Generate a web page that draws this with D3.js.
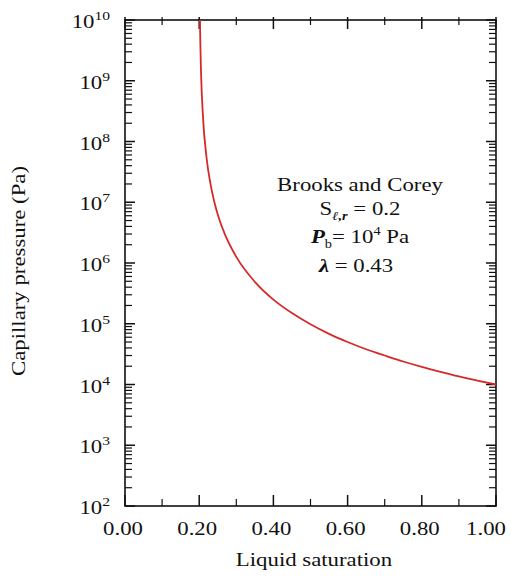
<!DOCTYPE html>
<html><head><meta charset="utf-8">
<script src="https://cdn.jsdelivr.net/npm/d3@7"></script>
<style>body{margin:0;background:#fff}svg text{font-family:"Liberation Serif","Times New Roman",serif;fill:#111}</style>
</head><body>
<svg id="c" width="511" height="579"></svg>
<script>
const saturation = [0.2021,0.203,0.205,0.21,0.22,0.23,0.24,0.25,0.27,0.30,0.35,0.40,0.45,0.50,0.55,0.60,0.65,0.70,0.75,0.80,0.85,0.90,0.95,1.00];
const pressure   = [1e10,4.4e9,1.34e9,2.67e8,5.3e7,2.07e7,1.06e7,6.3e6,2.9e6,1.26e6,4.9e5,2.5e5,1.5e5,9.8e4,6.8e4,5.0e4,3.8e4,3.0e4,2.39e4,1.95e4,1.62e4,1.36e4,1.16e4,1.0e4];
const xTicks = [0,0.2,0.4,0.6,0.8,1.0];
const xMinor = [0.1,0.3,0.5,0.7,0.9];
const yExps = [2,3,4,5,6,7,8,9,10];

const svg = d3.select("#c");
const L=125,R=496,T=20,B=506;
const x = d3.scaleLinear().domain([0,1]).range([L,R]);
const y = d3.scaleLog().domain([1e2,1e10]).range([B,T]);
const SX=1.2;
function txt(px,py,anchor,size,extra){
  const gg=svg.append("g").attr("transform",`translate(${px},${py})${extra||""} scale(${SX},1)`);
  return gg.append("text").attr("x",0).attr("y",0).attr("text-anchor",anchor).attr("font-size",size);
}

const g = svg.append("g");
const yMinorVals=[];
for(let e=2;e<10;e++) for(let m=2;m<=9;m++) yMinorVals.push(m*Math.pow(10,e));
yMinorVals.forEach(v=>{
  g.append("line").attr("x1",L).attr("x2",L+7).attr("y1",y(v)).attr("y2",y(v)).attr("stroke","#111").attr("stroke-width",1.2);
  g.append("line").attr("x1",R).attr("x2",R-7).attr("y1",y(v)).attr("y2",y(v)).attr("stroke","#111").attr("stroke-width",1.2);
});
yExps.forEach(e=>{
  const v=Math.pow(10,e);
  g.append("line").attr("x1",L).attr("x2",L+10).attr("y1",y(v)).attr("y2",y(v)).attr("stroke","#111").attr("stroke-width",1.5);
  g.append("line").attr("x1",R).attr("x2",R-10).attr("y1",y(v)).attr("y2",y(v)).attr("stroke","#111").attr("stroke-width",1.5);
  const t=txt(110,y(v)+8,"end",19);
  t.append("tspan").text("10");
  t.append("tspan").attr("dy",-8).attr("font-size",13).text(e);
});
xTicks.forEach(v=>{
  g.append("line").attr("x1",x(v)).attr("x2",x(v)).attr("y1",B).attr("y2",B-11).attr("stroke","#111").attr("stroke-width",1.5);
  g.append("line").attr("x1",x(v)).attr("x2",x(v)).attr("y1",T-3).attr("y2",T+9).attr("stroke","#111").attr("stroke-width",1.5);
  const lx = v===1 ? Math.min(x(v)-2, 486) : x(v)-2;
  txt(lx,535,"middle",19).text(d3.format(".2f")(v));
});
xMinor.forEach(v=>{
  g.append("line").attr("x1",x(v)).attr("x2",x(v)).attr("y1",B).attr("y2",B-7).attr("stroke","#111").attr("stroke-width",1.2);
  g.append("line").attr("x1",x(v)).attr("x2",x(v)).attr("y1",T-3).attr("y2",T+5).attr("stroke","#111").attr("stroke-width",1.2);
});
g.append("rect").attr("x",L).attr("y",T).attr("width",R-L).attr("height",B-T).attr("fill","none").attr("stroke","#111").attr("stroke-width",1.6);

const data = saturation.map((s,i)=>[s,pressure[i]]);
svg.append("path").datum(data).attr("fill","none").attr("stroke","#d42a2a").attr("stroke-width",1.8)
  .attr("d",d3.line().x(d=>x(d[0])).y(d=>y(d[1])).curve(d3.curveMonotoneX));

txt(314,566,"middle",19).text("Liquid saturation");
txt(25,271,"middle",19," rotate(-90)").text("Capillary pressure (Pa)");

const ax=360;
txt(ax,191,"middle",19).text("Brooks and Corey");
const s=txt(ax,215,"middle",19);
s.append("tspan").text("S");
s.append("tspan").attr("dy",5).attr("font-size",12).attr("font-style","italic").attr("font-weight","bold").text("ℓ,r");
s.append("tspan").attr("dy",-5).text(" = 0.2");
const p=txt(ax,243,"middle",19);
p.append("tspan").attr("font-style","italic").attr("font-weight","bold").text("P");
p.append("tspan").attr("dy",5).attr("font-size",12).text("b");
p.append("tspan").attr("dy",-5).text("= 10");
p.append("tspan").attr("dy",-8).attr("font-size",12).text("4");
p.append("tspan").attr("dy",8).text(" Pa");
const l=txt(ax-4,272,"middle",19);
l.append("tspan").attr("font-weight","bold").attr("font-style","italic").text("λ");
l.append("tspan").text(" = 0.43");
</script>
</body></html>
